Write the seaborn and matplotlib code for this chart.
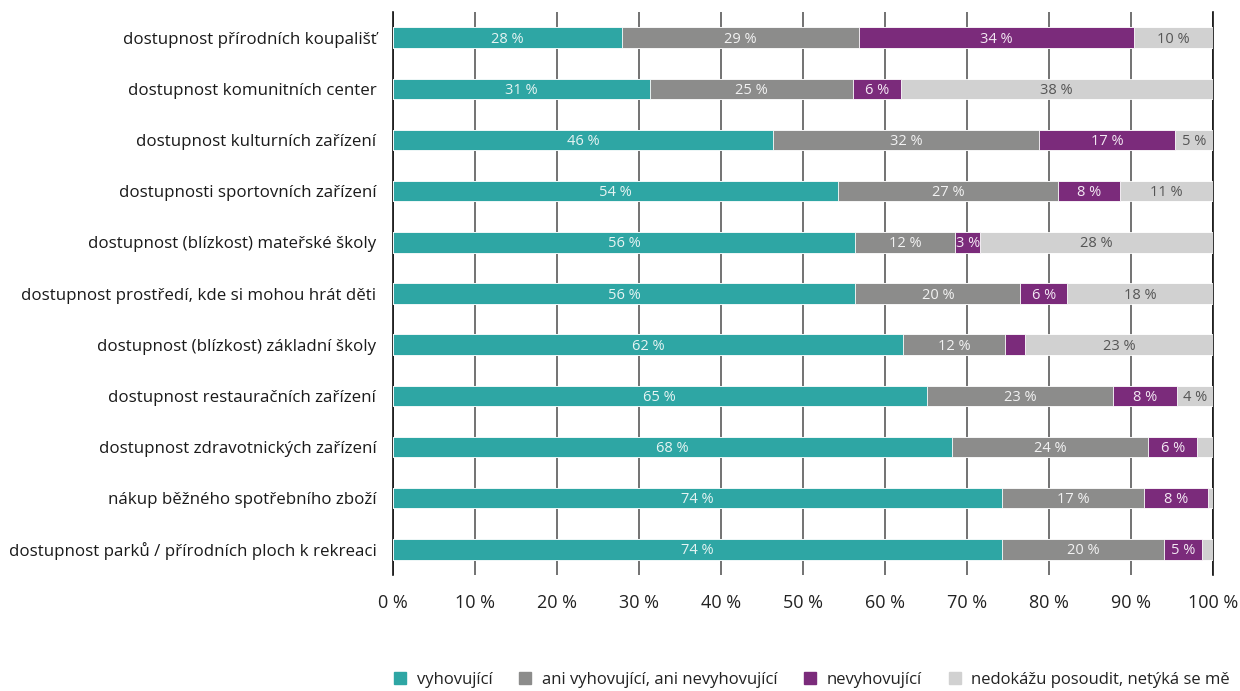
import matplotlib
matplotlib.use("Agg")
import matplotlib.pyplot as plt
from matplotlib.lines import Line2D
import pandas as pd
import seaborn as sns

categories = [
    "dostupnost přírodních koupališť",
    "dostupnost komunitních center",
    "dostupnost kulturních zařízení",
    "dostupnosti sportovních zařízení",
    "dostupnost (blízkost) mateřské školy",
    "dostupnost prostředí, kde si mohou hrát děti",
    "dostupnost (blízkost) základní školy",
    "dostupnost restauračních zařízení",
    "dostupnost zdravotnických zařízení",
    "nákup běžného spotřebního zboží",
    "dostupnost parků / přírodních ploch k rekreaci",
]
vyhovujici = [27.9, 31.3, 46.4, 54.3, 56.4, 56.4, 62.2, 65.1, 68.2, 74.3, 74.3]
ani_ani = [28.9, 24.8, 32.4, 26.8, 12.2, 20.1, 12.4, 22.7, 23.9, 17.3, 19.7]
nevyhovujici = [33.6, 5.8, 16.6, 7.6, 3.0, 5.7, 2.5, 7.8, 6.0, 7.8, 4.7]
nedokazu = [9.6, 38.1, 4.6, 11.3, 28.4, 17.8, 22.9, 4.4, 1.9, 0.6, 1.3]

series_names = ["vyhovující", "ani vyhovující, ani nevyhovující",
                "nevyhovující", "nedokážu posoudit, netýká se mě"]
colors = ["#2ea6a4", "#8c8c8b", "#7b2b7b", "#d1d1d1"]
label_colors = ["#e6f4f3", "#f2f2f2", "#f3e8f3", "#555555"]

df = pd.DataFrame({
    "kategorie": categories,
    series_names[0]: vyhovujici,
    series_names[1]: ani_ani,
    series_names[2]: nevyhovujici,
    series_names[3]: nedokazu,
})
cum = df[series_names].cumsum(axis=1)

sns.set_style("white")
plt.rcParams["font.family"] = ["Open Sans", "DejaVu Sans"]

fig = plt.figure(figsize=(12.4, 6.91), dpi=100)
ax = fig.add_axes([0.3169, 0.1679, 0.6613, 0.8147])

# stacked bars: draw cumulative totals from the longest to the shortest
for name, color in reversed(list(zip(series_names, colors))):
    sns.barplot(x=cum[name], y=df["kategorie"], color=color, saturation=1,
                orient="h", width=0.4, edgecolor="white", linewidth=0.6,
                ax=ax, zorder=3)

# segment labels
for i in range(len(categories)):
    for j, name in enumerate(series_names):
        v = df.loc[i, name]
        if v < 2.8:
            continue
        xc = cum.loc[i, name] - v / 2
        ax.text(xc, i + 0.03, f"{v:.0f} %", ha="center", va="center",
                fontsize=10.5, color=label_colors[j], zorder=5)

ax.set_xlim(0, 100)
ax.set_ylim(10.5, -0.5)
ax.set_xticks(range(0, 101, 10))
ax.set_xticklabels([f"{t} %" for t in range(0, 101, 10)], fontsize=13, color="#222222")
ax.tick_params(axis="x", length=0, pad=14)
ax.tick_params(axis="y", length=0, pad=12, labelsize=12.2, labelcolor="#1a1a1a")
ax.set_xlabel("")
ax.set_ylabel("")

ax.set_axisbelow(True)
ax.xaxis.grid(True, color="#5a5a5a", linewidth=1.2, zorder=0)
ax.yaxis.grid(False)
for side in ["top", "bottom"]:
    ax.spines[side].set_visible(False)
for side in ["left", "right"]:
    ax.spines[side].set_color("#111111")
    ax.spines[side].set_linewidth(1.2)

handles = [Line2D([], [], marker="s", linestyle="", color=c, markersize=9)
           for c in colors]
fig.legend(handles, series_names, loc="center", bbox_to_anchor=(0.654, 0.016),
           ncol=4, frameon=False, fontsize=12, handletextpad=0.5,
           handlelength=1.0, columnspacing=1.45, labelcolor="#222222")

fig.savefig("out.png", dpi=100)
